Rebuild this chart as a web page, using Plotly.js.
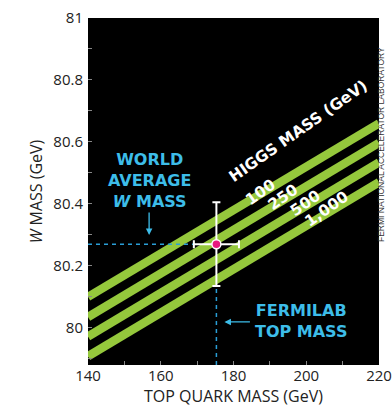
<!DOCTYPE html>
<html>
<head>
<meta charset="utf-8">
<script src="https://cdn.plot.ly/plotly-3.0.1.min.js"></script>
<style>html,body{margin:0;padding:0;background:#fff}#chart{width:392px;height:411px}</style>
</head>
<body>
<div id="chart"></div>
<script>
// ---- data ----
const topMassEnds = [140, 220];                 // GeV, ends of each Higgs band
const higgsLabels = ['100', '250', '500', '1,000'];
const wMassHiggs100  = [80.100, 80.660];
const wMassHiggs250  = [80.035, 80.597];
const wMassHiggs500  = [79.972, 80.534];
const wMassHiggs1000 = [79.908, 80.470];
const higgsBands = [wMassHiggs100, wMassHiggs250, wMassHiggs500, wMassHiggs1000];

const fermilabTopMass = [175.3];
const topMassError = [6.2];
const worldAverageWMass = [80.27];
const wMassError = [0.135];

const xRange = [140, 220];
const yRange = [79.88, 81];

const green = '#95c83c';
const blue = '#3dbde9';
const dashBlue = '#2a9ed6';
const font = 'Open Sans, sans-serif';
const boldFont = 'DejaVu Sans, sans-serif';

const traces = [];
higgsBands.forEach((b, i) => {
  traces.push({
    x: topMassEnds, y: b, mode: 'lines', name: higgsLabels[i],
    line: {color: green, width: 8.5}, hoverinfo: 'skip'
  });
});
// dashed guide lines
traces.push({
  x: [xRange[0], fermilabTopMass[0] - topMassError[0]],
  y: [worldAverageWMass[0], worldAverageWMass[0]],
  mode: 'lines', line: {color: dashBlue, width: 1.5, dash: '4px,4px'}, hoverinfo: 'skip'
});
traces.push({
  x: [fermilabTopMass[0], fermilabTopMass[0]],
  y: [yRange[0], worldAverageWMass[0] - wMassError[0]],
  mode: 'lines', line: {color: dashBlue, width: 1.5, dash: '4px,4px'}, hoverinfo: 'skip'
});
// measurement point
traces.push({
  x: fermilabTopMass, y: worldAverageWMass, mode: 'markers',
  marker: {color: '#e8197f', size: 9, line: {color: '#ffffff', width: 1.5}},
  error_x: {type: 'data', array: topMassError, color: '#ffffff', thickness: 2, width: 4},
  error_y: {type: 'data', array: wMassError, color: '#ffffff', thickness: 2, width: 4}
});

const ann = [];
function txt(x, y, text, opts) {
  ann.push(Object.assign({x, y, xref: 'x', yref: 'y', text, showarrow: false,
    font: {family: boldFont, size: 16, color: blue, weight: 700}}, opts || {}));
}
txt(156.8, 80.477, 'WORLD<br>AVERAGE<br><i>W</i> MASS');
txt(198.5, 80.022, 'FERMILAB<br>TOP MASS');
ann.push({x: 156.8, y: 80.300, xref: 'x', yref: 'y', ax: 0, ay: -24, text: '',
  showarrow: true, arrowhead: 2, arrowsize: 1, arrowwidth: 1.3, arrowcolor: blue});
ann.push({x: 177.5, y: 80.019, xref: 'x', yref: 'y', ax: 27, ay: 0, text: '',
  showarrow: true, arrowhead: 2, arrowsize: 1, arrowwidth: 1.3, arrowcolor: blue});
// Higgs labels
const white = {family: boldFont, size: 15.5, color: '#ffffff', weight: 700};
txt(197.9, 80.635, 'HIGGS MASS (GeV)', {textangle: -35, font: white});
const labelPos = [[187.5, 80.440], [193.8, 80.421], [199.9, 80.404], [205.6, 80.384]];
higgsLabels.forEach((l, i) => {
  txt(labelPos[i][0], labelPos[i][1], l, {textangle: -35, font: Object.assign({}, white, {size: 15.5})});
});
// credit
ann.push({xref: 'paper', yref: 'paper', x: 1.031, y: 0.634, text: 'FERMI NATIONAL ACCELERATOR LABORATORY',
  showarrow: false, textangle: -90, font: {family: 'Liberation Sans Narrow, Arial Narrow, sans-serif', size: 8.5, color: '#333'}});

const layout = {
  width: 392, height: 411,
  margin: {l: 88, r: 13, t: 18, b: 46, pad: 0},
  paper_bgcolor: '#ffffff', plot_bgcolor: '#000000',
  showlegend: false,
  font: {family: font, color: '#222', size: 15},
  xaxis: {
    range: xRange, dtick: 20, tick0: 140, ticks: 'inside', ticklen: 4, tickcolor: '#888',
    minor: {dtick: 10, ticks: 'inside', ticklen: 4, tickcolor: '#888'},
    showgrid: false, zeroline: false, showline: false,
    title: {text: 'TOP QUARK MASS (GeV)', font: {size: 16, color: '#222'}, standoff: 4},
    tickfont: {size: 15, color: '#222'}
  },
  yaxis: {
    range: yRange, dtick: 0.2, tick0: 80, ticks: 'inside', ticklen: 4, tickcolor: '#888',
    minor: {dtick: 0.1, ticks: 'inside', ticklen: 4, tickcolor: '#888'},
    showgrid: false, zeroline: false, showline: false,
    title: {text: '<i>W</i> MASS (GeV)', font: {size: 16, color: '#222'}, standoff: 6},
    tickfont: {size: 15, color: '#222'}, ticklabelstandoff: 4
  },
  annotations: ann
};

Plotly.newPlot('chart', traces, layout, {displayModeBar: false, staticPlot: true});
</script>
</body>
</html>
